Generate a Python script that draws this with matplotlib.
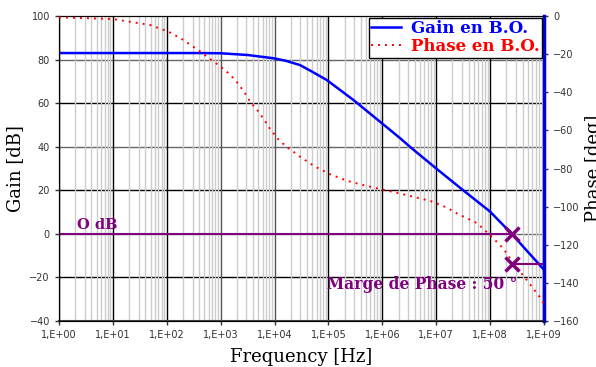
import matplotlib.pyplot as plt
import numpy as np
from matplotlib.ticker import FixedLocator, LogLocator, NullFormatter

# --- data (log10 of frequency) ---
gain_logf = [0, 2.6, 3.0, 3.5, 3.98, 4.2, 4.47, 4.7, 4.97, 5.46, 5.99, 6.33,
             6.51, 7, 7.5, 8, 8.4, 9]
gain_db = [83, 83, 82.9, 82.1, 80.6, 79.5, 77.5, 74.4, 70.6, 61.5, 50.8, 43.9,
           40, 30, 20, 10.2, 0, -16.5]

phase_logf = [0, 1, 1.69, 2.03, 2.31, 2.58, 2.83, 3.0, 3.17, 3.31, 3.44, 3.56,
              3.69, 3.81, 3.93, 4.06, 4.22, 4.39, 4.47, 4.75, 5.03, 5.34, 5.65,
              5.96, 6.26, 6.57, 6.88, 7.19, 7.38, 7.76, 8.0, 8.24, 8.43, 8.68,
              8.92, 9]
phase_deg = [-0.7, -1.6, -4.7, -8.2, -12.6, -17.8, -23.1, -26.6, -30.6, -35,
             -40, -45.5, -49.7, -54.6, -59.8, -64.4, -68.6, -72, -73.8, -79,
             -83, -86.4, -88.7, -90.8, -92.7, -94.8, -96.9, -100.4, -103.5,
             -108.7, -115, -121.8, -129.6, -138.5, -147.4, -151]

f_cross = 2.5e8
margin_phase = -130
decade_labels = ['1,E+00', '1,E+01', '1,E+02', '1,E+03', '1,E+04',
                 '1,E+05', '1,E+06', '1,E+07', '1,E+08', '1,E+09']

purple = '#800080'
serif = ['DejaVu Serif']

fig = plt.figure(figsize=(5.96, 3.67), dpi=100)
ax = fig.add_axes([0.099, 0.1253, 0.8138, 0.8311])
ax2 = ax.twinx()

ax.set_xscale('log')
ax.set_xlim(1, 1e9)
ax.set_ylim(-40, 100)
ax2.set_ylim(-160, 0)

# grid
ax.xaxis.set_major_locator(FixedLocator([10.0 ** k for k in range(10)]))
ax.xaxis.set_minor_locator(LogLocator(base=10, subs=np.arange(2, 10), numticks=50))
ax.xaxis.set_minor_formatter(NullFormatter())
ax.grid(True, which='minor', axis='x', color='#cccccc', lw=1.0)
ax.grid(True, which='major', axis='x', color='black', lw=1.0)
for i, gl in enumerate(ax.xaxis.get_gridlines()):
    if i in (3, 4):
        gl.set_color('#555555')
ax.set_yticks(np.arange(-40, 101, 20))
for i, yv in enumerate(range(80, -40, -20)):
    ax.axhline(yv, color='#666666' if i % 2 == 0 else 'black', lw=1.0, zorder=0.5)
ax.set_xticklabels(decade_labels)

l1, = ax.plot(10.0 ** np.array(gain_logf), gain_db, color='#0000ff', lw=1.8,
              label='Gain en B.O.', zorder=3)
l2, = ax2.plot(10.0 ** np.array(phase_logf), phase_deg, color='#ff0000', lw=1.4,
               ls=(0, (1, 2.6)), label='Phase en B.O.', zorder=3)

# 0 dB line and phase margin marks
ax.plot([1, f_cross], [0, 0], color=purple, lw=1.5, zorder=2)
ax.plot([f_cross], [0], marker='x', color=purple, ms=10, mew=2.5, zorder=4)
ax2.plot([f_cross, 1e9], [margin_phase, margin_phase], color=purple, lw=1.5, zorder=2)
ax2.plot([f_cross], [margin_phase], marker='x', color=purple, ms=10, mew=2.5, zorder=4)
ax.text(2.2, 1.0, 'O dB', color=purple, fontsize=10.5, fontweight='bold',
        family=serif, va='bottom', ha='left')
ax2.text(5.6e6, -141, 'Marge de Phase : 50 °', color=purple, fontsize=11.2,
         fontweight='bold', family=serif, va='center', ha='center')

# spines and ticks
ax2.spines['right'].set_color('#0000dd')
ax2.spines['right'].set_linewidth(2.5)
ax.spines['bottom'].set_color('#444444')
ax.spines['bottom'].set_linewidth(1.5)
for a in (ax, ax2):
    a.tick_params(labelsize=7, length=3, width=1, colors='#333333')
ax.tick_params(axis='x', which='minor', length=0)
ax2.set_yticks(np.arange(-160, 1, 20))

ax.set_xlabel('Frequency [Hz]', fontsize=13, family=serif, labelpad=6)
ax.set_ylabel('Gain [dB]', fontsize=13, family=serif, labelpad=4)
ax2.set_ylabel('Phase [deg]', fontsize=13, family=serif, labelpad=4)

leg = ax2.legend(handles=[l1, l2], loc='upper right',
                 prop={'family': serif, 'weight': 'bold', 'size': 12},
                 frameon=True, fancybox=False, framealpha=1, edgecolor='black',
                 borderpad=0.15, labelspacing=0.05, handlelength=1.8,
                 handletextpad=0.6, borderaxespad=0.1)
leg.get_texts()[0].set_color('#0000ff')
leg.get_texts()[1].set_color('#ff0000')
leg.set_zorder(10)

fig.savefig('out.png', dpi=100)
